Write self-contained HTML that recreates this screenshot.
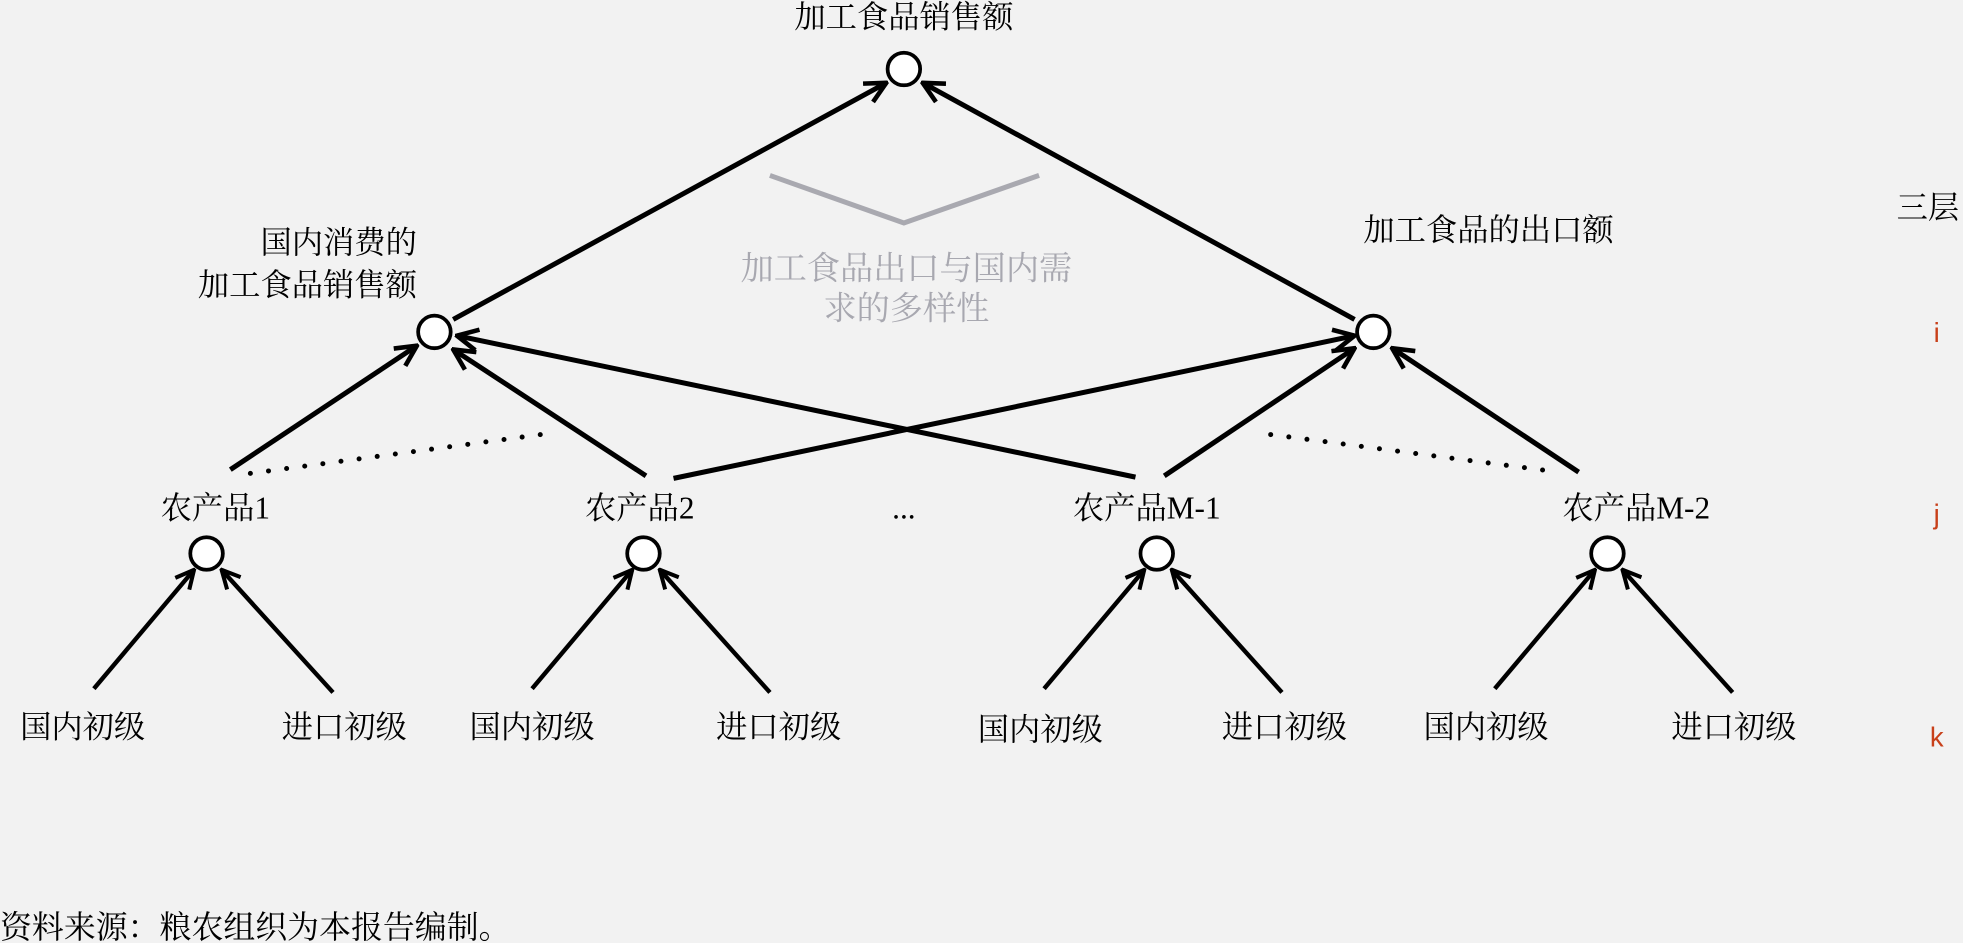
<!DOCTYPE html>
<html><head><meta charset="utf-8"><style>
html,body{margin:0;padding:0;background:#f2f2f2;}
svg{display:block}
text{font-family:"Liberation Serif","Noto Serif CJK SC",serif;}
</style></head><body>
<svg width="1963" height="943" viewBox="0 0 1568 753" xmlns="http://www.w3.org/2000/svg">
<defs>
<marker id="a" viewBox="0 0 12 12" refX="11" refY="6" markerWidth="5" markerHeight="5" orient="auto" markerUnits="strokeWidth">
<path d="M1,1 L11,6 L1,11" fill="none" stroke="#000" stroke-width="2.2"/>
</marker>
</defs>
<rect width="1568" height="753" fill="#f2f2f2"/>
<g stroke="#000" stroke-width="4" fill="none" marker-end="url(#a)">
<line x1="362" y1="255" x2="708" y2="66"/>
<line x1="1082" y1="255" x2="737" y2="66"/>
<line x1="184" y1="375" x2="333" y2="276"/>
<line x1="516" y1="380" x2="362" y2="279"/>
<line x1="538" y1="382" x2="1082" y2="268"/>
<line x1="907" y1="381" x2="365" y2="268"/>
<line x1="930" y1="380" x2="1082" y2="278"/>
<line x1="1261" y1="377" x2="1112" y2="278"/>
<g stroke-width="3.5">
<line x1="75" y1="550" x2="155" y2="455"/><line x1="266" y1="553" x2="177" y2="455"/>
<line x1="425" y1="550" x2="505" y2="455"/><line x1="615" y1="553" x2="527" y2="455"/>
<line x1="834" y1="550" x2="914" y2="455"/><line x1="1024" y1="553" x2="936" y2="455"/>
<line x1="1194" y1="550" x2="1274" y2="455"/><line x1="1384" y1="553" x2="1296" y2="455"/>
</g>
</g>
<g stroke="#000" stroke-width="4" stroke-linecap="round" stroke-dasharray="0 14.6">
<line x1="200" y1="378" x2="432" y2="347"/>
<line x1="1015" y1="347" x2="1245" y2="377"/>
</g>
<polyline points="615,140 722,178 830,140" fill="none" stroke="#a9a9b0" stroke-width="4"/>
<g fill="#fff" stroke="#000" stroke-width="3">
<circle cx="722" cy="55" r="13"/>
<circle cx="347" cy="265" r="13"/>
<circle cx="1097" cy="265" r="13"/>
<circle cx="165" cy="442" r="13"/>
<circle cx="514" cy="442" r="13"/>
<circle cx="924" cy="442" r="13"/>
<circle cx="1284" cy="442" r="13"/>
</g>
<g font-size="25" fill="#000">
<text x="722" y="22" text-anchor="middle">加工食品销售额</text>
<text x="333" y="202" text-anchor="end">国内消费的</text>
<text x="333" y="236" text-anchor="end">加工食品销售额</text>
<text x="1189" y="192" text-anchor="middle">加工食品的出口额</text>
<text x="172" y="414" text-anchor="middle">农产品1</text>
<text x="511" y="414" text-anchor="middle">农产品2</text>
<text x="722" y="414" text-anchor="middle">...</text>
<text x="916" y="414" text-anchor="middle">农产品M-1</text>
<text x="1307" y="414" text-anchor="middle">农产品M-2</text>
<text x="66" y="589" text-anchor="middle">国内初级</text>
<text x="275" y="589" text-anchor="middle">进口初级</text>
<text x="425" y="589" text-anchor="middle">国内初级</text>
<text x="622" y="589" text-anchor="middle">进口初级</text>
<text x="831" y="591" text-anchor="middle">国内初级</text>
<text x="1026" y="589" text-anchor="middle">进口初级</text>
<text x="1187" y="589" text-anchor="middle">国内初级</text>
<text x="1385" y="589" text-anchor="middle">进口初级</text>
<text x="1515" y="174">三层</text>
</g>
<g font-size="26.5" fill="#a8a8b0" text-anchor="middle">
<text x="724" y="223">加工食品出口与国内需</text>
<text x="724" y="255">求的多样性</text>
</g>
<g font-size="22" fill="#c8401a" text-anchor="middle">
<text x="1547" y="273" style="font-family:'Liberation Sans',sans-serif">i</text>
<text x="1547" y="418" style="font-family:'Liberation Sans',sans-serif">j</text>
<text x="1547" y="596" style="font-family:'Liberation Sans',sans-serif">k</text>
</g>
<text x="0" y="749" font-size="25.5" fill="#000">资料来源：粮农组织为本报告编制。</text>
</svg>
</body></html>
